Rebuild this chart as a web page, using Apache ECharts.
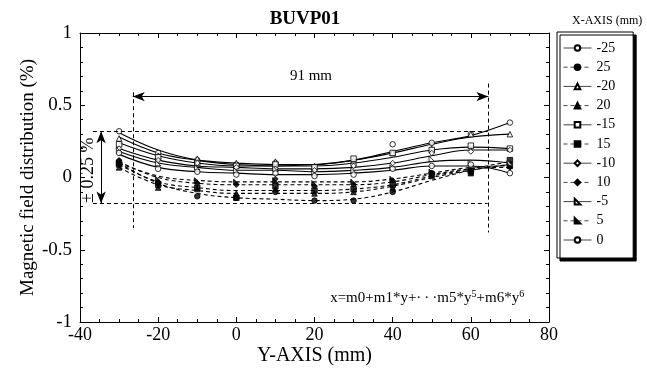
<!DOCTYPE html>
<html>
<head>
<meta charset="utf-8">
<script src="https://cdn.jsdelivr.net/npm/echarts@6/dist/echarts.min.js"></script>
<style>html,body{margin:0;padding:0;background:#fff}#c{width:647px;height:371px}</style>
</head>
<body>
<div id="c"></div>
<script>
// Y-AXIS positions (mm)
const yPos = [-30, -20, -10, 0, 10, 20, 30, 40, 50, 60, 70];
// X-AXIS series names (mm), legend order
const seriesNames = ['-25', '25', '-20', '20', '-15', '15', '-10', '10', '-5', '5', '0'];
// measured values (%)
const meas_m25 = [0.32, 0.17, 0.12, 0.09, 0.10, 0.06, 0.09, 0.23, 0.24, 0.30, 0.38];
const meas_p25 = [0.11, -0.04, -0.13, -0.14, -0.10, -0.16, -0.16, -0.10, 0.03, 0.05, 0.09];
const meas_m20 = [0.27, 0.15, 0.13, 0.10, 0.11, 0.08, 0.12, 0.17, 0.20, 0.30, 0.30];
const meas_p20 = [0.07, -0.07, -0.08, -0.11, -0.08, -0.11, -0.10, -0.07, 0.01, 0.03, 0.09];
const meas_m15 = [0.23, 0.14, 0.10, 0.08, 0.09, 0.07, 0.13, 0.17, 0.19, 0.22, 0.20];
const meas_p15 = [0.09, -0.05, -0.07, -0.14, -0.06, -0.09, -0.08, -0.05, 0.02, 0.04, 0.12];
const meas_m10 = [0.20, 0.12, 0.10, 0.07, 0.06, 0.05, 0.08, 0.10, 0.17, 0.18, 0.19];
const meas_p10 = [0.12, -0.03, -0.04, -0.05, -0.01, -0.06, -0.05, -0.02, 0.03, 0.04, 0.07];
const meas_m5 = [0.19, 0.10, 0.07, 0.05, 0.06, 0.03, 0.05, 0.07, 0.13, 0.10, 0.10];
const meas_p5 = [0.10, -0.01, -0.02, -0.03, -0.02, -0.04, -0.03, -0.01, 0.04, 0.05, 0.08];
const meas_0 = [0.17, 0.06, 0.04, 0.02, 0.03, 0.01, 0.02, 0.06, 0.08, 0.09, 0.03];
// fitted curve values (%) read at the same positions
const fit_m25 = [0.31, 0.19, 0.12, 0.09, 0.08, 0.09, 0.12, 0.18, 0.24, 0.29, 0.38];
const fit_p25 = [0.10, -0.04, -0.11, -0.14, -0.15, -0.16, -0.15, -0.10, -0.02, 0.05, 0.09];
const fit_m20 = [0.28, 0.17, 0.12, 0.10, 0.09, 0.09, 0.12, 0.17, 0.23, 0.28, 0.30];
const fit_p20 = [0.07, -0.05, -0.09, -0.11, -0.11, -0.11, -0.10, -0.06, 0.00, 0.05, 0.09];
const fit_m15 = [0.24, 0.15, 0.10, 0.08, 0.08, 0.08, 0.10, 0.14, 0.19, 0.21, 0.20];
const fit_p15 = [0.09, -0.03, -0.07, -0.09, -0.09, -0.09, -0.08, -0.05, 0.01, 0.06, 0.11];
const fit_m10 = [0.20, 0.12, 0.08, 0.07, 0.06, 0.06, 0.07, 0.10, 0.15, 0.19, 0.19];
const fit_p10 = [0.11, 0.00, -0.04, -0.05, -0.05, -0.05, -0.05, -0.03, 0.02, 0.06, 0.07];
const fit_m5 = [0.18, 0.10, 0.07, 0.05, 0.05, 0.04, 0.05, 0.07, 0.11, 0.12, 0.10];
const fit_p5 = [0.10, 0.01, -0.02, -0.03, -0.03, -0.03, -0.03, -0.01, 0.03, 0.07, 0.08];
const fit_0 = [0.16, 0.07, 0.04, 0.03, 0.02, 0.02, 0.03, 0.05, 0.08, 0.08, 0.03];
// tick labels
const xTicks = [-40, -20, 0, 20, 40, 60, 80];
const yTicks = [-1, -0.5, 0, 0.5, 1];

const measList = [meas_m25, meas_p25, meas_m20, meas_p20, meas_m15, meas_p15, meas_m10, meas_p10, meas_m5, meas_p5, meas_0];
const fitList = [fit_m25, fit_p25, fit_m20, fit_p20, fit_m15, fit_p15, fit_m10, fit_p10, fit_m5, fit_p5, fit_0];
const FONT = 'Liberation Serif';
const rtri = 'path://M0,0 L10,10 L0,10 Z';
// marker: [symbol, filled]
const markers = [
  ['circle', false], ['circle', true], ['triangle', false], ['triangle', true],
  ['rect', false], ['rect', true], ['diamond', false], ['diamond', true],
  [rtri, false], [rtri, true], ['circle', false]
];

const series = [];
seriesNames.forEach((nm, i) => {
  const dashed = i % 2 === 1;
  const [sym, filled] = markers[i];
  const itemStyle = { color: filled ? '#000' : '#fff', borderColor: '#000', borderWidth: 1 };
  series.push({
    name: nm, type: 'line', smooth: 0.4, showSymbol: false,
    symbol: sym, symbolSize: 6, itemStyle: itemStyle,
    lineStyle: { color: '#000', width: 1.1, type: dashed ? [4, 3] : 'solid' },
    data: yPos.map((x, k) => [x, fitList[i][k]]),
    z: 2, silent: true
  });
  series.push({
    name: nm, type: 'scatter', symbol: sym, symbolSize: 5.5, itemStyle: itemStyle,
    data: yPos.map((x, k) => [x, measList[i][k]]),
    z: 3, silent: true
  });
});

const dash = { color: '#000', width: 1, type: [4, 3] };
series.push({
  type: 'line', data: [], silent: true,
  markLine: {
    silent: true, symbol: ['none', 'none'], label: { show: false }, animation: false,
    lineStyle: dash,
    data: [
      [{ coord: [-36.7, 0.32] }, { coord: [64.3, 0.32] }],
      [{ coord: [-36.7, -0.18] }, { coord: [64.3, -0.18] }],
      [{ coord: [-26.5, 0.59] }, { coord: [-26.5, -0.35] }],
      [{ coord: [64.5, 0.65] }, { coord: [64.5, -0.38] }]
    ]
  }
});
series.push({
  type: 'line', data: [], silent: true,
  markLine: {
    silent: true, symbol: ['arrow', 'arrow'], symbolSize: [7, 12], label: { show: false }, animation: false,
    lineStyle: { color: '#000', width: 1, type: 'solid' },
    data: [
      [{ coord: [-26.5, 0.56] }, { coord: [64.5, 0.56] }],
      [{ coord: [-34.6, 0.32] }, { coord: [-34.6, -0.18] }]
    ]
  }
});

const axisLine = { show: true, onZero: false, lineStyle: { color: '#000', width: 1 } };
const axisTick = { show: true, inside: true, length: 5, lineStyle: { color: '#000' } };
const splitLine = { show: false };

const chart = echarts.init(document.getElementById('c'));
chart.setOption({
  animation: false,
  backgroundColor: '#fff',
  textStyle: { fontFamily: FONT },
  title: [
    { text: 'BUVP01', left: 300, top: 5, textAlign: 'center',
      textStyle: { fontFamily: FONT, fontWeight: 'bold', fontSize: 19, color: '#000' } },
    { text: 'X-AXIS (mm)', left: 567, top: 10,
      textStyle: { fontFamily: FONT, fontWeight: 'normal', fontSize: 12, color: '#000' } }
  ],
  legend: {
    orient: 'vertical', left: 557, top: 32,
    data: seriesNames,
    itemWidth: 28, itemHeight: 7, itemGap: 5.2,
    padding: [9, 18, 11, 6],
    borderColor: '#000', borderWidth: 1, backgroundColor: '#fff',
    shadowColor: '#000', shadowBlur: 0, shadowOffsetX: 3, shadowOffsetY: 3,
    lineStyle: { width: 1, color: '#444' },
    textStyle: { fontFamily: FONT, fontSize: 14, color: '#000' },
    selectedMode: false
  },
  grid: { left: 80, right: 98, top: 33, bottom: 49 },
  xAxis: [
    {
      type: 'value', min: xTicks[0], max: xTicks[xTicks.length - 1], interval: 20,
      minorTick: { show: true, splitNumber: 4, length: 3, lineStyle: { color: '#000' } },
      name: 'Y-AXIS (mm)', nameLocation: 'middle', nameGap: 24, nameMoveOverlap: false,
      nameTextStyle: { fontFamily: FONT, fontSize: 20, color: '#000' },
      axisLabel: { margin: 4, fontFamily: FONT, fontSize: 18, color: '#000' },
      axisLine, axisTick, splitLine
    },
    {
      type: 'value', position: 'top', min: xTicks[0], max: xTicks[xTicks.length - 1], interval: 20,
      minorTick: { show: true, splitNumber: 4, length: 3, lineStyle: { color: '#000' } },
      axisLabel: { show: false }, axisLine, axisTick, splitLine
    }
  ],
  yAxis: [
    {
      type: 'value', min: yTicks[0], max: yTicks[yTicks.length - 1], interval: 0.5,
      minorTick: { show: true, splitNumber: 5, length: 3, lineStyle: { color: '#000' } },
      name: 'Magnetic field distribution (%)', nameLocation: 'middle', nameGap: 42, nameRotate: 90,
      nameMoveOverlap: false,
      nameTextStyle: { fontFamily: FONT, fontSize: 19, color: '#000' },
      axisLabel: { margin: 8, fontFamily: FONT, fontSize: 19, color: '#000' },
      axisLine, axisTick, splitLine
    },
    {
      type: 'value', position: 'right', min: yTicks[0], max: yTicks[yTicks.length - 1], interval: 0.5,
      minorTick: { show: true, splitNumber: 5, length: 3, lineStyle: { color: '#000' } },
      axisLabel: { show: false }, axisLine, axisTick, splitLine
    }
  ],
  series: series
});

function px(pt) { return chart.convertToPixel({ xAxisIndex: 0, yAxisIndex: 0 }, pt); }
const p91 = px([19.1, 0.70]);
const pPm = px([-37.8, 0.05]);
const pFx = px([24, -0.835]);
chart.setOption({
  graphic: [
    { type: 'text', x: p91[0], y: p91[1], style: { text: '91 mm', fontFamily: FONT, fontSize: 15, fill: '#000', align: 'center', verticalAlign: 'middle' } },
    { type: 'text', x: pPm[0], y: pPm[1], rotation: Math.PI / 2,
      style: { text: '± 0.25 %', fontFamily: FONT, fontSize: 18, fill: '#000', align: 'center', verticalAlign: 'middle' } },
    { type: 'text', x: pFx[0], y: pFx[1],
      style: {
        text: 'x=m0+m1*y+\u00b7\u2009\u00b7\u2009\u00b7m5*y{s|5}+m6*y{s|6}',
        fontFamily: FONT, fontSize: 15, fill: '#000', align: 'left', verticalAlign: 'middle',
        rich: { s: { fontFamily: FONT, fontSize: 10, verticalAlign: 'top', padding: [0, 0, 8, 0] } }
      } }
  ]
});
</script>
</body>
</html>
